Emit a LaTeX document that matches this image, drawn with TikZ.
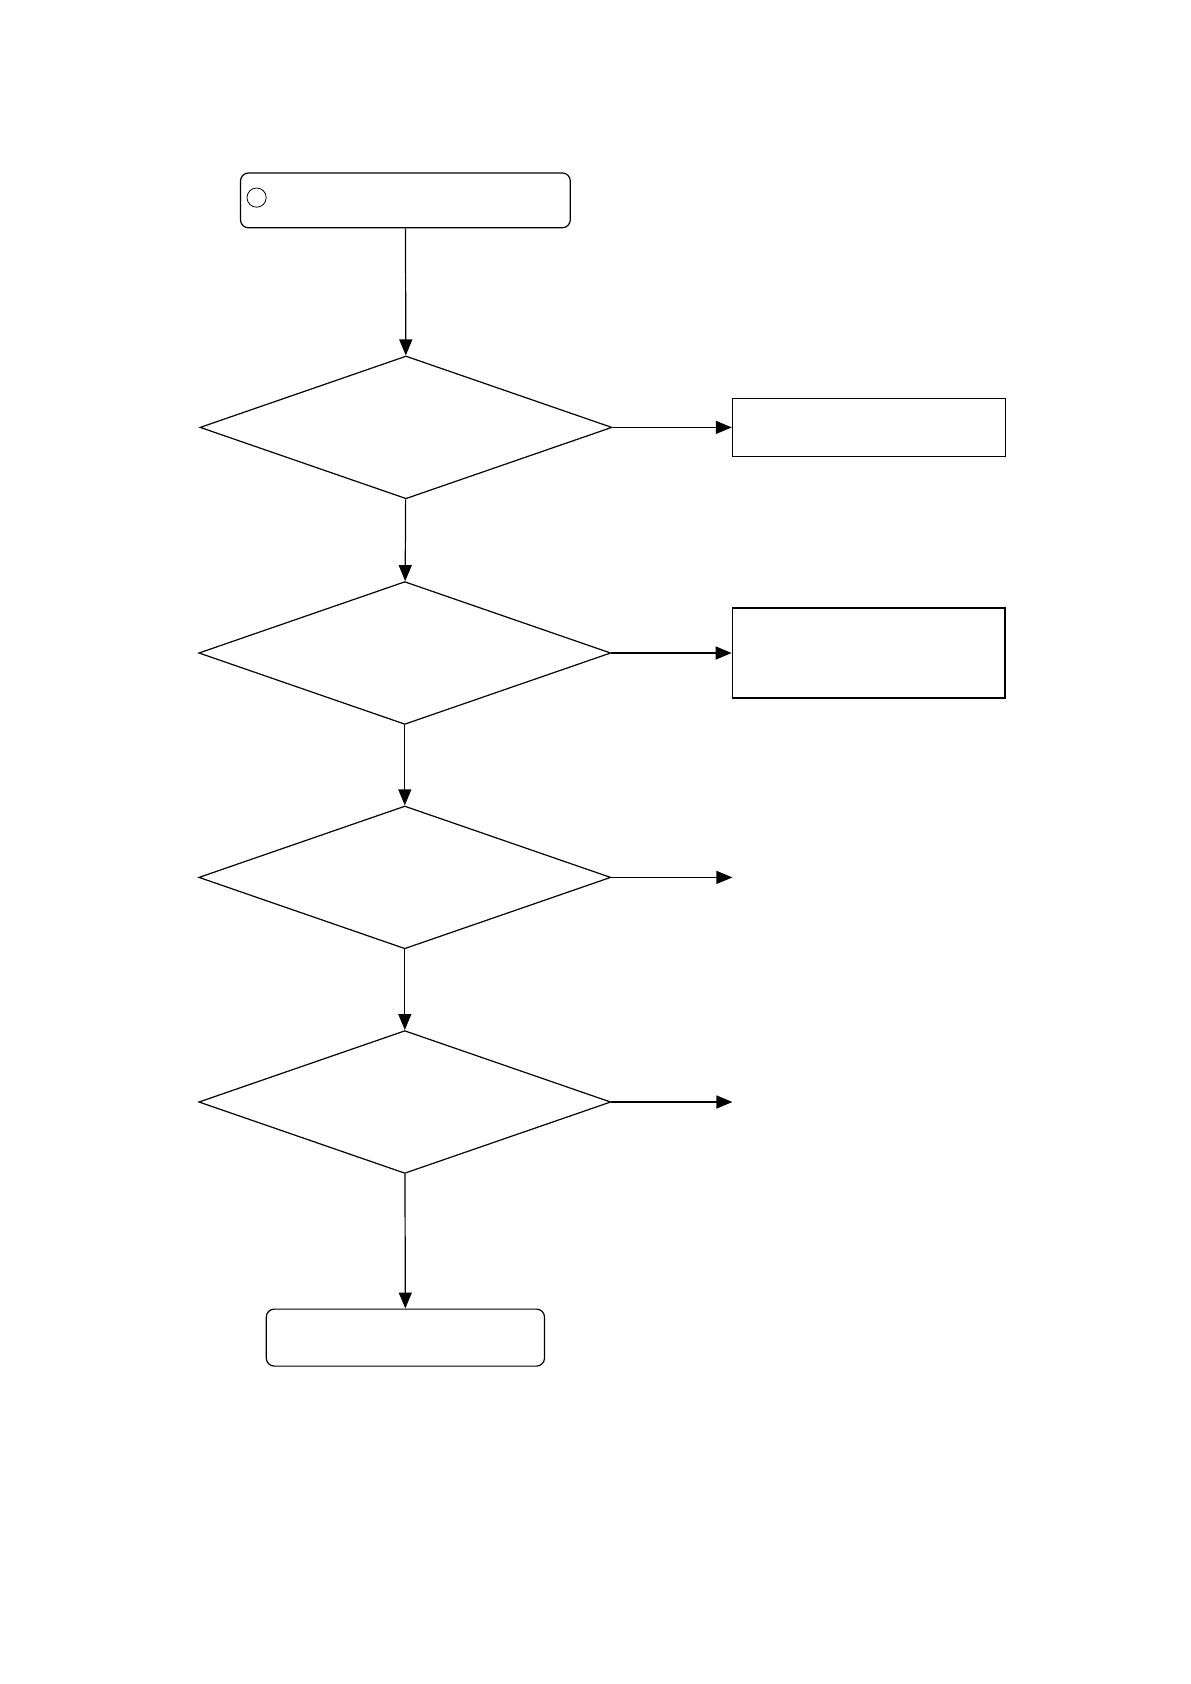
\documentclass[tikz,border=0pt]{standalone}
\usepackage{tikz}
\usetikzlibrary{shapes.geometric,arrows.meta,positioning}

\begin{document}
\begin{tikzpicture}[x=1pt, y=1pt, line width=0.6pt,
    decision/.style={draw, diamond, inner sep=0pt, minimum width=206pt, minimum height=71.4pt},
    startstop/.style={draw, rounded corners=4pt, inner sep=0pt},
    action/.style={draw, inner sep=0pt, minimum width=136.4pt},
    flow/.style={-{Triangle[length=8pt, width=6.5pt]}}]
    % Page
    \useasboundingbox (0,0) rectangle (595,-842);

    % Start
    \node[startstop, minimum width=164.9pt, minimum height=27.4pt] (start) at (202.7,-100.2) {};
    \node[draw, circle, inner sep=0pt, minimum size=9.6pt, line width=0.4pt] (mark) at (128.3,-98.8) {};

    % Decisions
    \node[decision] (dec1) at (203,-213.7) {};
    \node[decision] (dec2) at (202.4,-326.5) {};
    \node[decision] (dec3) at (202.4,-438.7) {};
    \node[decision] (dec4) at (202.4,-551) {};

    % Side boxes
    \node[action, minimum height=29pt] (act1) at (434.4,-213.7) {};
    \node[action, minimum height=45.1pt, line width=0.8pt] (act2) at (434.4,-326.5) {};
    \coordinate (out3) at (366.2,-438.7);
    \coordinate (out4) at (366.2,-551);

    % End
    \node[startstop, minimum width=139.1pt, minimum height=28.5pt] (stop) at (202.7,-668.8) {};

    % Main flow
    \draw[flow] (start) -- (dec1);
    \draw[flow] (dec1) -- (dec2);
    \draw[flow] (dec2) -- (dec3);
    \draw[flow] (dec3) -- (dec4);
    \draw[flow] (dec4) -- (stop);

    % Branches
    \draw[flow] (dec1.east) -- (act1.west);
    \draw[flow, line width=0.9pt] (dec2.east) -- (act2.west);
    \draw[flow] (dec3.east) -- (out3);
    \draw[flow, line width=0.8pt] (dec4.east) -- (out4);
\end{tikzpicture}
\end{document}
